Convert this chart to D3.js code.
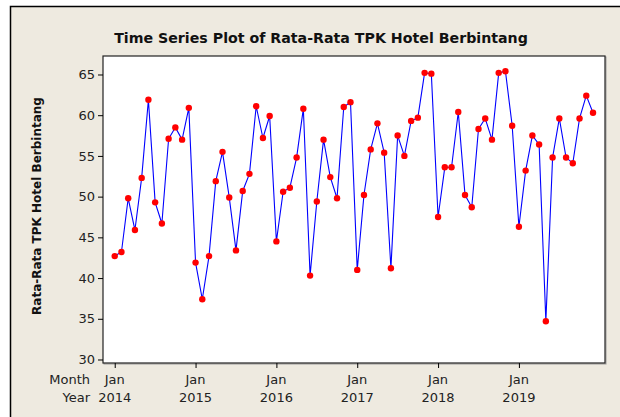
<!DOCTYPE html>
<html>
<head>
<meta charset="utf-8">
<script src="https://cdn.jsdelivr.net/npm/d3@7"></script>
<style>
  body { margin: 0; background: #fff; }
  text { font-family: "DejaVu Sans", sans-serif; }
</style>
</head>
<body>
<svg id="chart" width="620" height="417"></svg>
<script>
// monthly average hotel occupancy, Jan 2014 - Dec 2019
const values = [
  42.7, 43.2, 49.8, 45.9, 52.3, 61.9, 49.3, 46.7, 57.1, 58.5, 57.0, 60.9,
  41.9, 37.4, 42.7, 51.9, 55.5, 49.9, 43.4, 50.7, 52.8, 61.1, 57.2, 59.9,
  44.5, 50.6, 51.1, 54.8, 60.8, 40.3, 49.4, 57.0, 52.4, 49.8, 61.0, 61.6,
  41.0, 50.2, 55.8, 59.0, 55.4, 41.2, 57.5, 55.0, 59.3, 59.7, 65.2, 65.1,
  47.5, 53.6, 53.6, 60.4, 50.2, 48.7, 58.3, 59.6, 57.0, 65.2, 65.4, 58.7,
  46.3, 53.2, 57.5, 56.4, 34.7, 54.8, 59.6, 54.8, 54.1, 59.6, 62.4, 60.3
];
const years = [2014, 2015, 2016, 2017, 2018, 2019];
const yTicks = [30, 35, 40, 45, 50, 55, 60, 65];

const svg = d3.select('#chart');
const plot = { left: 103, right: 605, top: 56, bottom: 363 };

const x = d3.scaleLinear().domain([-1.74, 72.78]).range([plot.left, plot.right]);
const y = d3.scaleLinear().domain([29.57, 67.27]).range([plot.bottom, plot.top]);

// outer frame
svg.append('rect').attr('x', 10.5).attr('y', 6.5).attr('width', 620).attr('height', 420)
  .attr('fill', '#eeeae0').attr('stroke', '#000').attr('stroke-width', 1.5);

// plot area with shadowed border
svg.append('rect').attr('x', plot.left + 1).attr('y', plot.top + 1)
  .attr('width', plot.right - plot.left).attr('height', plot.bottom - plot.top)
  .attr('fill', 'none').attr('stroke', '#999').attr('stroke-width', 1);
svg.append('rect').attr('x', plot.left).attr('y', plot.top)
  .attr('width', plot.right - plot.left).attr('height', plot.bottom - plot.top)
  .attr('fill', '#fff').attr('stroke', '#222').attr('stroke-width', 1.2);

// y axis
const yAxis = svg.append('g').attr('transform', `translate(${plot.left},0)`)
  .call(d3.axisLeft(y).tickValues(yTicks).tickSize(5).tickPadding(3));
yAxis.select('.domain').remove();
yAxis.selectAll('text').attr('font-size', 13).attr('fill', '#222');

// x axis: january of every year
const janIdx = years.map((yr, i) => i * 12);
const xAxis = svg.append('g').attr('transform', `translate(0,${plot.bottom})`)
  .call(d3.axisBottom(x).tickValues(janIdx).tickSize(5).tickFormat(''));
xAxis.select('.domain').remove();

svg.selectAll('.month-lbl').data(janIdx).join('text')
  .attr('class', 'month-lbl')
  .attr('x', (d) => x(d)).attr('y', 384)
  .attr('text-anchor', 'middle').attr('font-size', 13).attr('fill', '#222')
  .text('Jan');
svg.selectAll('.year-lbl').data(years).join('text')
  .attr('class', 'year-lbl')
  .attr('x', (d, i) => x(janIdx[i])).attr('y', 402)
  .attr('text-anchor', 'middle').attr('font-size', 13).attr('fill', '#222')
  .text((d) => d);
svg.append('text').attr('x', 90).attr('y', 384).attr('text-anchor', 'end')
  .attr('font-size', 13).attr('fill', '#222').text('Month');
svg.append('text').attr('x', 90).attr('y', 402).attr('text-anchor', 'end')
  .attr('font-size', 13).attr('fill', '#222').text('Year');

// series
const line = d3.line().x((d, i) => x(i)).y((d) => y(d));
svg.append('path').datum(values).attr('d', line)
  .attr('fill', 'none').attr('stroke', '#0000ff').attr('stroke-width', 1.1);
svg.selectAll('.pt').data(values).join('circle')
  .attr('class', 'pt')
  .attr('cx', (d, i) => x(i)).attr('cy', (d) => y(d)).attr('r', 3.2)
  .attr('fill', '#ff0000');

// titles
svg.append('text').attr('x', 321).attr('y', 43).attr('text-anchor', 'middle')
  .attr('font-size', 14.2).attr('font-weight', 'bold').attr('fill', '#111')
  .text('Time Series Plot of Rata-Rata TPK Hotel Berbintang');
svg.append('text')
  .attr('transform', 'translate(41,206) rotate(-90)')
  .attr('text-anchor', 'middle').attr('font-size', 12).attr('font-weight', 'bold').attr('fill', '#111')
  .text('Rata-Rata TPK Hotel Berbintang');
</script>
</body>
</html>
